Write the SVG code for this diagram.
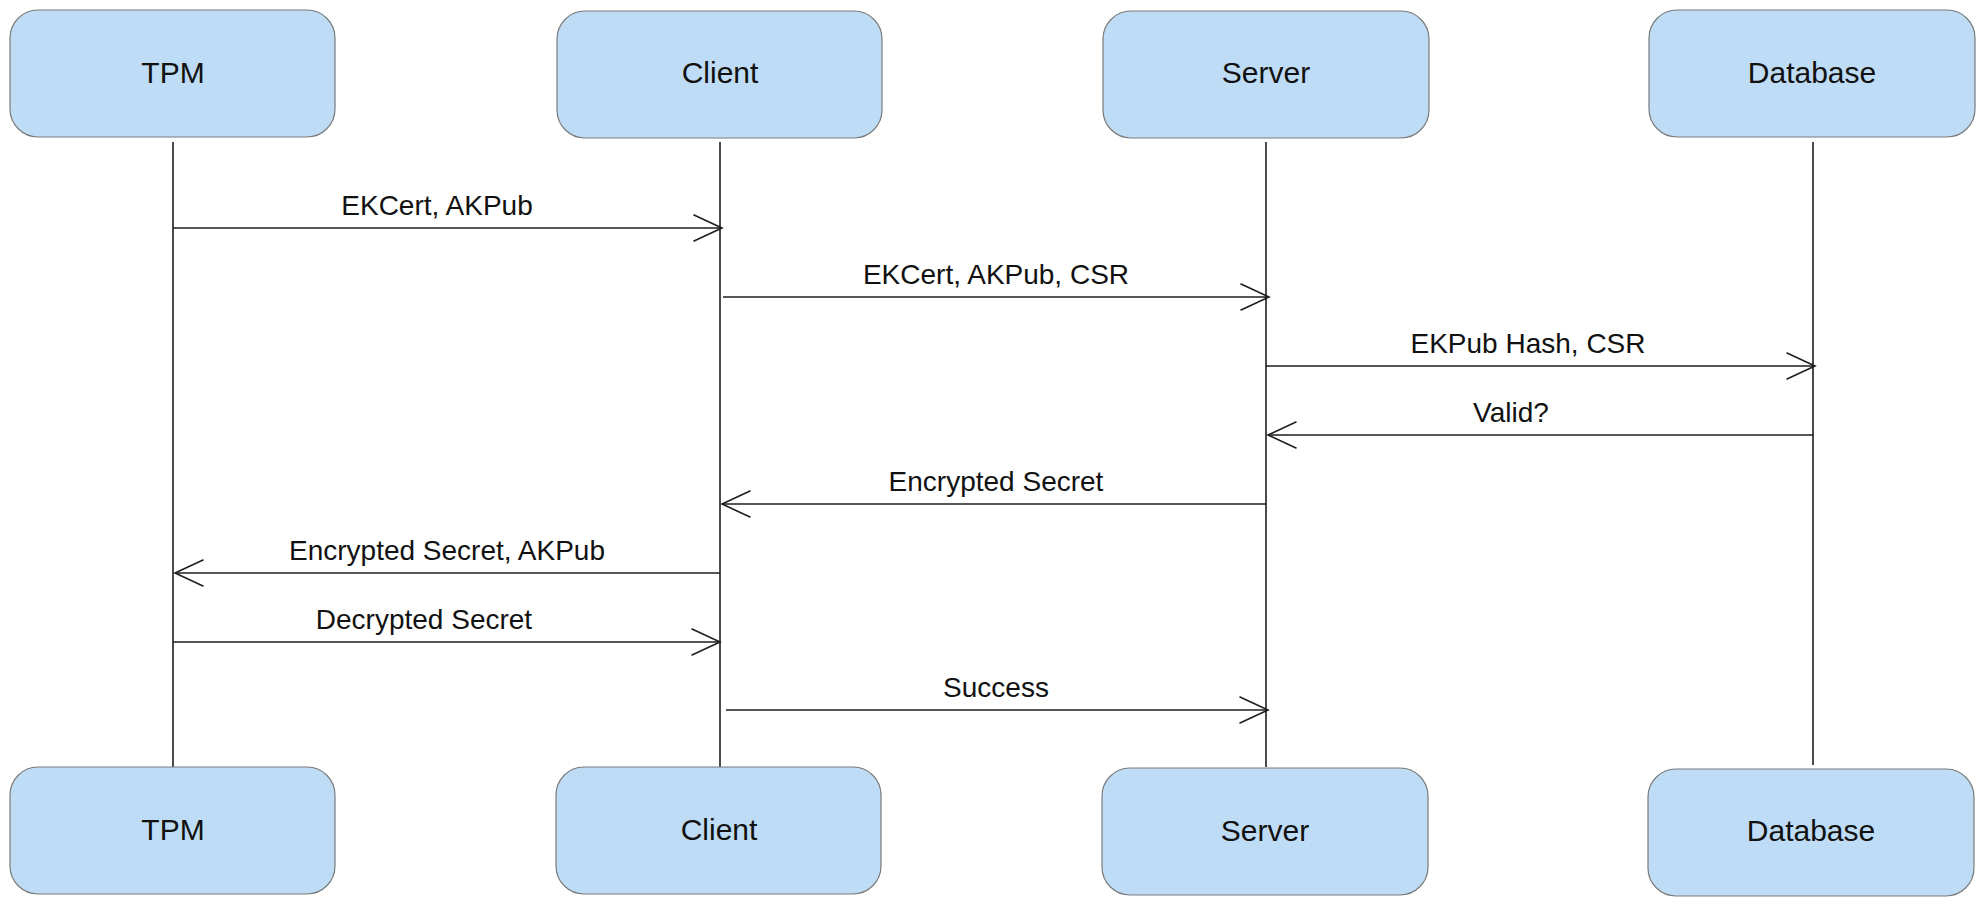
<svg xmlns="http://www.w3.org/2000/svg" width="1985" height="905" viewBox="0 0 1985 905">
<defs>
<style>
.box{fill:#bedcf5;stroke:#7a7a7a;stroke-width:1.2}
.lbl{font-family:"Liberation Sans",Arial,sans-serif;font-size:28px;fill:#111;text-anchor:middle}
.nl{font-size:30px}
.life{stroke:#1e1e1e;stroke-width:1.6;fill:none}
.msg{stroke:#1e1e1e;stroke-width:1.6;fill:none}
.head{stroke:#1e1e1e;stroke-width:1.6;fill:none;stroke-linecap:round}
</style>
</defs>
<rect width="1985" height="905" fill="#ffffff"/>
<g id="lifelines">
<line class="life" x1="173" y1="142" x2="173" y2="767"/>
<line class="life" x1="720" y1="142" x2="720" y2="767"/>
<line class="life" x1="1266" y1="142" x2="1266" y2="767"/>
<line class="life" x1="1813" y1="142" x2="1813" y2="765"/>
</g>
<g id="tpm-top"><rect class="box" x="10" y="10" width="325" height="127" rx="28"/><text class="lbl nl" x="173" y="83">TPM</text></g>
<g id="client-top"><rect class="box" x="557" y="11" width="325" height="127" rx="28"/><text class="lbl nl" x="720" y="83">Client</text></g>
<g id="server-top"><rect class="box" x="1103" y="11" width="326" height="127" rx="28"/><text class="lbl nl" x="1266" y="83">Server</text></g>
<g id="database-top"><rect class="box" x="1649" y="10" width="326" height="127" rx="28"/><text class="lbl nl" x="1812" y="83">Database</text></g>
<g id="tpm-bottom"><rect class="box" x="10" y="767" width="325" height="127" rx="28"/><text class="lbl nl" x="173" y="840">TPM</text></g>
<g id="client-bottom"><rect class="box" x="556" y="767" width="325" height="127" rx="28"/><text class="lbl nl" x="719" y="840">Client</text></g>
<g id="server-bottom"><rect class="box" x="1102" y="768" width="326" height="127" rx="28"/><text class="lbl nl" x="1265" y="841">Server</text></g>
<g id="database-bottom"><rect class="box" x="1648" y="769" width="326" height="127" rx="28"/><text class="lbl nl" x="1811" y="841">Database</text></g>
<g id="connectors">
<line class="msg" x1="173" y1="228" x2="722" y2="228"/><polyline class="head" points="694,215 722,228 694,241"/>
<text class="lbl" x="437" y="215">EKCert, AKPub</text>
<line class="msg" x1="723" y1="297" x2="1269" y2="297"/><polyline class="head" points="1241,284 1269,297 1241,310"/>
<text class="lbl" x="996" y="284">EKCert, AKPub, CSR</text>
<line class="msg" x1="1266" y1="366" x2="1815" y2="366"/><polyline class="head" points="1787,353 1815,366 1787,379"/>
<text class="lbl" x="1528" y="353">EKPub Hash, CSR</text>
<line class="msg" x1="1813" y1="435" x2="1268" y2="435"/><polyline class="head" points="1296,422 1268,435 1296,448"/>
<text class="lbl" x="1511" y="422">Valid?</text>
<line class="msg" x1="1266" y1="504" x2="722" y2="504"/><polyline class="head" points="750,491 722,504 750,517"/>
<text class="lbl" x="996" y="491">Encrypted Secret</text>
<line class="msg" x1="720" y1="573" x2="175" y2="573"/><polyline class="head" points="203,560 175,573 203,586"/>
<text class="lbl" x="447" y="560">Encrypted Secret, AKPub</text>
<line class="msg" x1="173" y1="642" x2="720" y2="642"/><polyline class="head" points="692,629 720,642 692,655"/>
<text class="lbl" x="424" y="629">Decrypted Secret</text>
<line class="msg" x1="726" y1="710" x2="1268" y2="710"/><polyline class="head" points="1240,697 1268,710 1240,723"/>
<text class="lbl" x="996" y="697">Success</text>
</g>
</svg>
